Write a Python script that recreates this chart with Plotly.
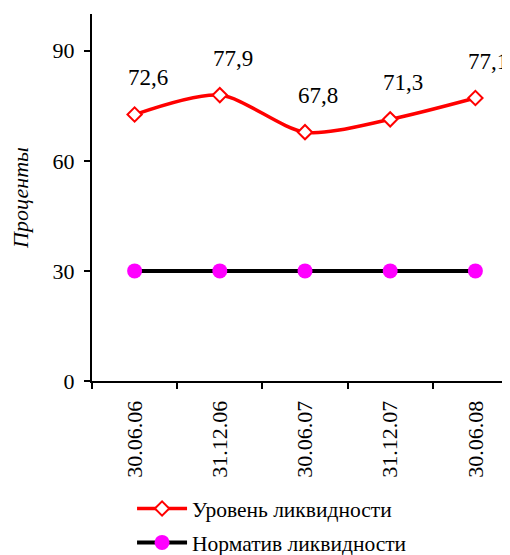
import plotly.graph_objects as go

dates = ["30.06.06", "31.12.06", "30.06.07", "31.12.07", "30.06.08"]
level = [72.6, 77.9, 67.8, 71.3, 77.1]
norm = [30, 30, 30, 30, 30]
y_ticks = [0, 30, 60, 90]

FONT = "Liberation Serif"

fig = go.Figure()

fig.add_trace(go.Scatter(
    x=dates, y=level, name="Уровень ликвидности", legendgroup="a",
    mode="lines+markers",
    line=dict(color="#ff0000", width=3.5, shape="spline", smoothing=0.8),
    marker=dict(symbol="diamond", size=11, color="white",
                line=dict(color="#ff0000", width=2)),
))

fig.add_trace(go.Scatter(
    x=dates, y=norm, name="Норматив ликвидности", legendgroup="b",
    mode="lines+markers",
    line=dict(color="#000000", width=4),
    marker=dict(symbol="circle", size=15, color="#ff00ff"),
))

# value labels above the red series
for d, v in zip(dates, level):
    fig.add_annotation(
        x=d, y=v, text=f"{v:.1f}".replace(".", ","),
        showarrow=False, xshift=13, yshift=37,
        font=dict(family=FONT, size=23, color="black"),
    )

# page body has an 8px margin, so everything is offset by -8
fig.update_layout(
    width=510, height=555,
    margin=dict(l=84, r=0, t=6, b=180),
    paper_bgcolor="white", plot_bgcolor="white",
    font=dict(family=FONT, size=22, color="black"),
    showlegend=True,
    legend=dict(
        orientation="v", x=0.094, xanchor="left", y=-0.293, yanchor="top",
        font=dict(family=FONT, size=21.5), itemwidth=50, tracegroupgap=3,
        bgcolor="rgba(0,0,0,0)",
    ),
)

fig.update_xaxes(
    type="category", range=[-0.5, 4.5],
    showline=True, linecolor="black", linewidth=2,
    ticks="outside", ticklen=6, tickwidth=2, tickcolor="black",
    tickson="boundaries", tickangle=-90, ticklabelstandoff=9,
    showgrid=False, zeroline=False,
    tickfont=dict(family=FONT, size=22),
)

fig.update_yaxes(
    range=[0, 100], tickvals=y_ticks,
    showline=True, linecolor="black", linewidth=2,
    ticks="outside", ticklen=6, tickwidth=2, tickcolor="black",
    ticklabelstandoff=5,
    showgrid=False, zeroline=False,
    title=dict(text="<i>Проценты</i>", font=dict(family=FONT, size=22), standoff=22),
    tickfont=dict(family=FONT, size=22),
)

fig.write_html("out.html")
